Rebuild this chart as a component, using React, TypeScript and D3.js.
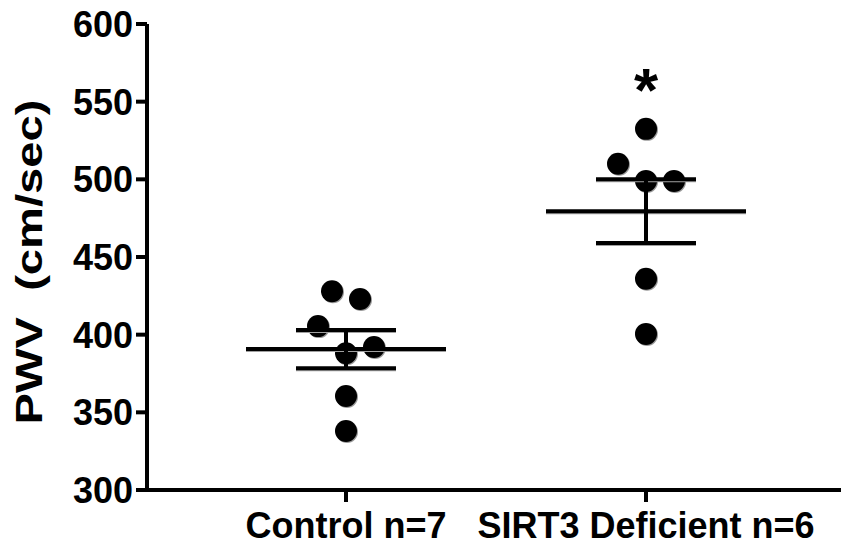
import * as d3 from 'd3';
import * as React from 'react';

const groups = ['Control n=7', 'SIRT3 Deficient n=6'];
const controlValues = [428, 423, 405.5, 388, 392, 360.5, 338];
const sirt3Values = [532.5, 510, 499, 499, 436, 400.5];
const yTicks = [300, 350, 400, 450, 500, 550, 600];
const significant = [false, true];

const WIDTH = 841;
const HEIGHT = 550;
const FONT = '"Liberation Sans", Arial, sans-serif';

// points that fall within rowBand px of the row's top point share a row and
// are spread side by side (in the order they appear in the array)
const swarm = (values: number[], y: (v: number) => number, rowBand: number, spacing: number) => {
  const order = d3.range(values.length).sort((a, b) => values[b] - values[a]);
  const rows: number[][] = [];
  order.forEach((i) => {
    const row = rows[rows.length - 1];
    if (row && Math.abs(y(values[i]) - y(values[row[0]])) <= rowBand) row.push(i);
    else rows.push([i]);
  });
  const offsets = new Array(values.length).fill(0);
  rows.forEach((row) => {
    row.sort((a, b) => a - b);
    row.forEach((idx, k) => {
      offsets[idx] = (k - (row.length - 1) / 2) * spacing;
    });
  });
  return offsets;
};

export default function App() {
  const y = d3.scaleLinear().domain([300, 600]).range([490, 24]);
  const x = d3.scalePoint<string>().domain(groups).range([346, 646]);
  const data = [controlValues, sirt3Values];

  const stats = React.useMemo(
    () =>
      data.map((vals) => {
        const mean = d3.mean(vals) ?? 0;
        const sem = (d3.deviation(vals) ?? 0) / Math.sqrt(vals.length);
        return { mean, sem, max: d3.max(vals) ?? 0 };
      }),
    [],
  );

  const axisLeft = 147;
  const axisBottom = y(300);

  return (
    <svg
      width={WIDTH}
      height={HEIGHT}
      style={{ position: 'absolute', left: 0, top: 0, background: '#fff' }}
      fontFamily={FONT}
      fontWeight="bold"
    >
      {/* y axis */}
      <line x1={axisLeft} x2={axisLeft} y1={y(600)} y2={axisBottom + 2} stroke="#000" strokeWidth={4} />
      {yTicks.map((t) => (
        <g key={t}>
          <line x1={136} x2={axisLeft} y1={y(t)} y2={y(t)} stroke="#000" strokeWidth={4} />
          <text x={133} y={y(t)} dy="0.36em" textAnchor="end" fontSize={36}>
            {t}
          </text>
        </g>
      ))}
      <text
        transform={`translate(42, 262) rotate(-90)`}
        textAnchor="middle"
        fontSize={37}
        textLength={325}
        lengthAdjust="spacingAndGlyphs"
        style={{ whiteSpace: 'pre' }}
      >
        {'PWV  (cm/sec)'}
      </text>

      {/* x axis */}
      <line x1={axisLeft - 2} x2={WIDTH} y1={axisBottom} y2={axisBottom} stroke="#000" strokeWidth={4} />
      {groups.map((g) => (
        <g key={g}>
          <line x1={x(g)} x2={x(g)} y1={axisBottom} y2={axisBottom + 12} stroke="#000" strokeWidth={4} />
          <text x={x(g)} y={538} textAnchor="middle" fontSize={36}>
            {g}
          </text>
        </g>
      ))}

      {/* groups */}
      {groups.map((g, gi) => {
        const cx = x(g) ?? 0;
        const vals = data[gi];
        const offs = swarm(vals, y, 31, 28);
        const s = stats[gi];
        const lineShadow = '#a0a0a0';
        return (
          <g key={g}>
            {vals.map((v, i) => (
              <g key={i}>
                <circle cx={cx + offs[i] + 1} cy={y(v) + 1} r={11} fill="#999" />
                <circle cx={cx + offs[i]} cy={y(v)} r={11} fill="#000" />
              </g>
            ))}
            {[s.mean, s.mean + s.sem, s.mean - s.sem].map((m, k) => {
              const half = k === 0 ? 100 : 50;
              return (
                <g key={k}>
                  <line x1={cx - half} x2={cx + half} y1={y(m) + 1} y2={y(m) + 1} stroke={lineShadow} strokeWidth={4} />
                  <line x1={cx - half} x2={cx + half} y1={y(m)} y2={y(m)} stroke="#000" strokeWidth={4} />
                </g>
              );
            })}
            <line x1={cx} x2={cx} y1={y(s.mean + s.sem)} y2={y(s.mean - s.sem)} stroke="#000" strokeWidth={4} />
            {significant[gi] && (
              <text x={cx} y={y(s.max) + 2} dy="-0.32em" textAnchor="middle" fontSize={62}>
                *
              </text>
            )}
          </g>
        );
      })}
    </svg>
  );
}
